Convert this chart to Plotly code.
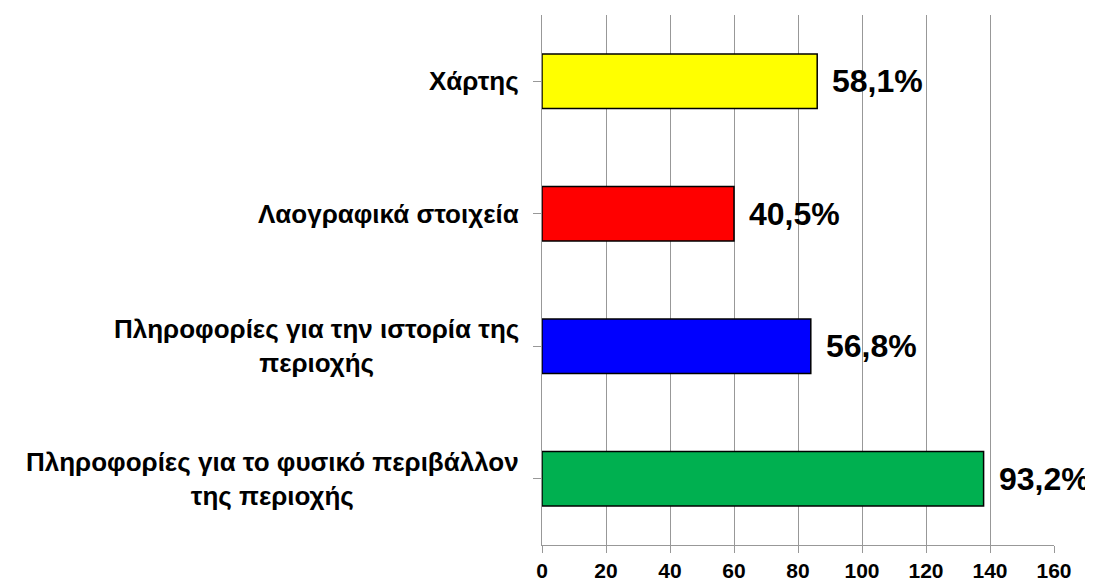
import plotly.graph_objects as go

categories = [
    "Πληροφορίες για το φυσικό περιβάλλον<br>της περιοχής",
    "Πληροφορίες για την ιστορία της<br>περιοχής",
    "Λαογραφικά στοιχεία",
    "Χάρτης",
]
values = [138, 84, 60, 86]
percent_labels = ["93,2%", "56,8%", "40,5%", "58,1%"]
bar_colors = ["#00B050", "#0000FF", "#FF0000", "#FFFF00"]
x_ticks = [0, 20, 40, 60, 80, 100, 120, 140, 160]

FONT = "Liberation Sans, Arial, sans-serif"

fig = go.Figure()
fig.add_trace(go.Bar(
    y=list(range(len(categories))),
    x=values,
    orientation="h",
    marker=dict(color=bar_colors, line=dict(color="#000000", width=1.5)),
    width=0.41,
    hoverinfo="skip",
))

annotations = []
for i, (v, lab) in enumerate(zip(values, percent_labels)):
    annotations.append(dict(
        x=v, y=i, xref="x", yref="y", text=f"<b>{lab}</b>",
        showarrow=False, xanchor="left", yanchor="middle", xshift=13,
        font=dict(family=FONT, size=32, color="#000000"),
    ))
for i, cat in enumerate(categories):
    annotations.append(dict(
        x=0, y=i, xref="paper", yref="y", text=f"<b>{cat}</b>",
        showarrow=False, xanchor="right", yanchor="middle", xshift=-21,
        align="center",
        font=dict(family=FONT, size=26, color="#000000"),
    ))

fig.update_layout(
    width=1085, height=573,
    margin=dict(l=534, r=39, t=7, b=36, autoexpand=False),
    paper_bgcolor="#FFFFFF", plot_bgcolor="#FFFFFF",
    showlegend=False,
    annotations=annotations,
    xaxis=dict(
        range=[0, 160], tickvals=x_ticks, ticktext=[str(t) for t in x_ticks],
        showgrid=True, gridcolor="#989898", gridwidth=1,
        showline=True, linecolor="#989898", linewidth=1,
        ticks="outside", ticklen=7, tickcolor="#989898",
        tickfont=dict(family=FONT, size=21, color="#000000", weight="bold"),
        ticklabelstandoff=0, automargin=False,
        zeroline=False, fixedrange=True,
    ),
    yaxis=dict(
        range=[-0.5, 3.5], tickmode="array", tickvals=[0, 1, 2, 3],
        showticklabels=False, tickson="boundaries",
        ticks="outside", ticklen=8, tickcolor="#989898",
        showline=True, linecolor="#989898", linewidth=1,
        showgrid=False, zeroline=False, fixedrange=True, automargin=False,
    ),
)

fig.write_html("out.html")
